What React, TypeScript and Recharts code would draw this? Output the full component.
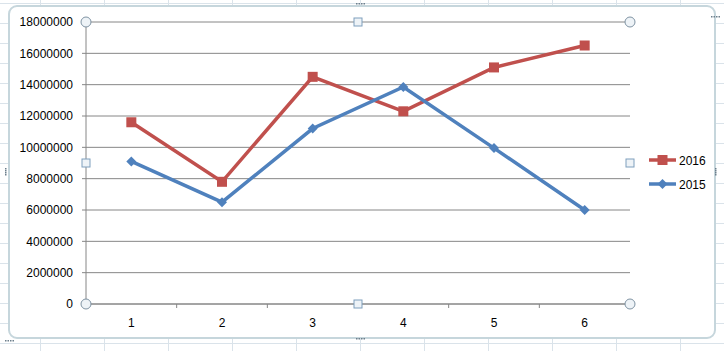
import React from "react";
import { LineChart, Line, XAxis, YAxis, CartesianGrid } from "recharts";

const categories = ["1", "2", "3", "4", "5", "6"];
const values2016 = [11600000, 7800000, 14500000, 12300000, 15100000, 16500000];
const values2015 = [9100000, 6500000, 11200000, 13850000, 9950000, 6000000];
const yTicks = [0, 2000000, 4000000, 6000000, 8000000, 10000000, 12000000, 14000000, 16000000, 18000000];
const seriesNames = ["2016", "2015"];

const RED = "#c0504d";
const BLUE = "#4f81bd";
const GRID = "#868686";

const data = categories.map((c, i) => ({ cat: c, s2016: values2016[i], s2015: values2015[i] }));

const W = 724;
const H = 351;
const PL = 86, PR = 630, PT = 22, PB = 304;
const X_TICK_MARGIN = 14;

const font = "'Liberation Sans', Arial, sans-serif";

const SquareDot = (props: any) => {
  const { cx, cy } = props;
  if (cx == null || cy == null) return null;
  return <rect x={cx - 5} y={cy - 5} width={10} height={10} fill={RED} />;
};
const DiamondDot = (props: any) => {
  const { cx, cy } = props;
  if (cx == null || cy == null) return null;
  return <polygon points={`${cx},${cy - 5} ${cx + 5},${cy} ${cx},${cy + 5} ${cx - 5},${cy}`} fill={BLUE} />;
};

const CategoryTick = (props: any) => {
  const { x, y, payload, index } = props;
  const off = payload && typeof payload.offset === "number" ? payload.offset : 0;
  const axisY = y - X_TICK_MARGIN;
  return (
    <g>
      {off > 0 && index < categories.length - 1 ? (
        <line x1={x + off} x2={x + off} y1={axisY} y2={axisY + 4} stroke={GRID} strokeWidth={1} />
      ) : null}
      <text x={x} y={y} dy="0.71em" textAnchor="middle" fontSize={12} fontFamily={font} fill="#000">
        {payload.value}
      </text>
    </g>
  );
};

export default function App() {
  const handleCircle = (x: number, y: number, k: string) => (
    <circle key={k} cx={x} cy={y} r={5} fill="#eef3f7" stroke="#7f93a3" strokeWidth={1} />
  );
  const handleSquare = (x: number, y: number, k: string) => (
    <rect key={k} x={x - 4} y={y - 4} width={8} height={8} fill="#eef3f7" stroke="#7f9fbd" strokeWidth={1} />
  );
  const dots = (x: number, y: number, vertical: boolean, k: string) => (
    <g key={k} fill="#6d7f8c">
      {[0, 1, 2, 3].map((i) =>
        vertical ? <rect key={i} x={x} y={y + i * 2} width={1.5} height={1.5} /> : <rect key={i} x={x + i * 2.5} y={y} width={1.5} height={1.5} />
      )}
    </g>
  );
  return (
    <div
      style={{
        position: "absolute",
        left: 0,
        top: 0,
        width: W,
        height: H,
        overflow: "hidden",
        backgroundColor: "#ffffff",
        backgroundImage:
          "linear-gradient(to right, #dae3ea 1px, transparent 1px), linear-gradient(to bottom, #dae3ea 1px, transparent 1px)",
        backgroundSize: "64px 20px",
        backgroundPosition: "40px 3px",
        fontFamily: font,
      }}
    >
      <div
        style={{
          position: "absolute",
          left: 8,
          top: 5,
          width: 704,
          height: 330,
          border: "2px solid #c6d6dc",
          borderRadius: 9,
          background: "#ffffff",
        }}
      />
      <div style={{ position: "absolute", left: 0, top: 0 }}>
        <LineChart width={W} height={H} data={data} margin={{ top: PT, right: W - PR, bottom: 17, left: 6 }}>
          <CartesianGrid vertical={false} stroke={GRID} strokeWidth={1} yAxisId="l" xAxisId="c" />
          <XAxis
            xAxisId="c"
            dataKey="cat"
            scale="band"
            height={30}
            interval={0}
            axisLine={{ stroke: GRID }}
            tickLine={false}
            tickSize={0}
            tickMargin={X_TICK_MARGIN}
            tick={<CategoryTick />}
          />
          <YAxis
            yAxisId="l"
            domain={[0, 18000000]}
            ticks={yTicks}
            width={80}
            interval={0}
            axisLine={{ stroke: GRID }}
            tickLine={{ stroke: GRID }}
            tickSize={4}
            tickMargin={9}
            tick={{ fontSize: 12, fill: "#000", fontFamily: font }}
          />
          <YAxis
            yAxisId="r"
            orientation="right"
            domain={[0, 18000000]}
            width={0}
            tick={false}
            tickLine={false}
            axisLine={{ stroke: GRID }}
          />
          <Line
            xAxisId="c"
            yAxisId="l"
            dataKey="s2016"
            name={seriesNames[0]}
            stroke={RED}
            strokeWidth={3.5}
            dot={<SquareDot />}
            activeDot={false}
            isAnimationActive={false}
          />
          <Line
            xAxisId="c"
            yAxisId="l"
            dataKey="s2015"
            name={seriesNames[1]}
            stroke={BLUE}
            strokeWidth={3.5}
            dot={<DiamondDot />}
            activeDot={false}
            isAnimationActive={false}
          />
        </LineChart>
      </div>
      <svg width={W} height={H} style={{ position: "absolute", left: 0, top: 0, pointerEvents: "none" }}>
        {handleCircle(PL, PT, "c1")}
        {handleCircle(PR, PT, "c2")}
        {handleCircle(PL, PB, "c3")}
        {handleCircle(PR, PB, "c4")}
        {handleSquare((PL + PR) / 2, PT, "s1")}
        {handleSquare((PL + PR) / 2, PB, "s2")}
        {handleSquare(PL, (PT + PB) / 2, "s3")}
        {handleSquare(PR, (PT + PB) / 2, "s4")}
        {dots(356, 3, false, "d1")}
        {dots(356, 338, false, "d2")}
        {dots(5, 168, true, "d3")}
        {dots(715, 168, true, "d4")}
        {dots(5, 340, false, "d5")}
        {dots(711, 16, false, "d6")}
        <g>
          <line x1={649} y1={160} x2={676} y2={160} stroke={RED} strokeWidth={3.5} />
          <rect x={657.5} y={155} width={10} height={10} fill={RED} />
          <text x={679} y={164.5} fontSize={12} fontFamily={font} fill="#000">{seriesNames[0]}</text>
          <line x1={649} y1={184} x2={676} y2={184} stroke={BLUE} strokeWidth={3.5} />
          <polygon points="662.5,179 667.5,184 662.5,189 657.5,184" fill={BLUE} />
          <text x={679} y={188.5} fontSize={12} fontFamily={font} fill="#000">{seriesNames[1]}</text>
        </g>
      </svg>
    </div>
  );
}
